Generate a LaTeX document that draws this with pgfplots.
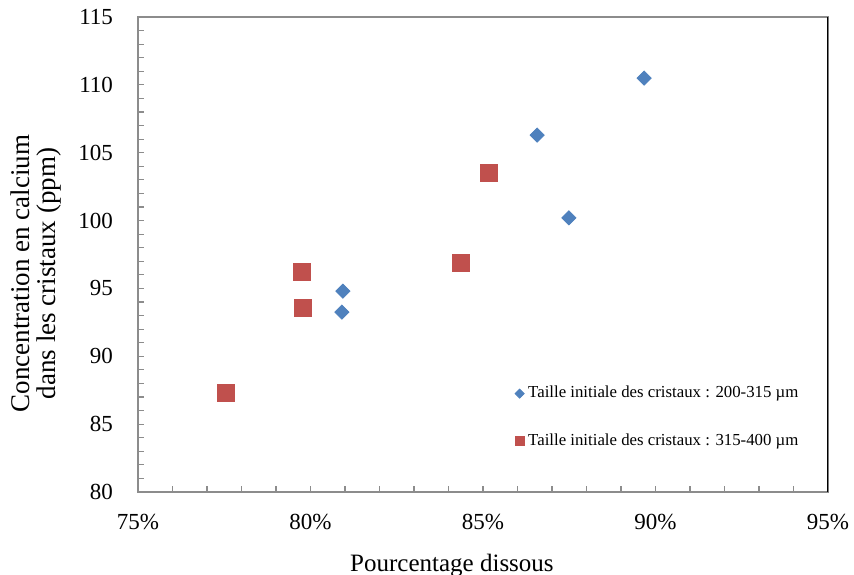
\documentclass[border=0pt]{standalone}
\usepackage{pgfplots}
\pgfplotsset{compat=1.18}
\usepackage{fontspec}
\setmainfont{Liberation Serif}

\definecolor{xlblue}{HTML}{4F81BD}
\definecolor{xlred}{HTML}{C0504D}
\definecolor{axgray}{HTML}{8C8C8C}

\begin{document}
\begin{tikzpicture}
	\begin{axis}[
			scale only axis,
			width=345pt, height=237.5pt,
			xmin=75, xmax=95, ymin=80, ymax=115,
			xtick={75,80,85,90,95},
			xticklabels={75\%,80\%,85\%,90\%,95\%},
			ytick={80,85,...,115},
			minor x tick num=4, minor y tick num=4,
			xtick pos=bottom, ytick pos=left,
			tick align=inside,
			major tick length=3pt, minor tick length=3pt,
			tick style={axgray, line width=0.6pt},
			axis line style={axgray, line width=0.9pt},
			/pgf/number format/assume math mode=true,
			ticklabel style={font=\fontsize{11.5}{13}\selectfont},
			xticklabel style={yshift=-7.5pt},
			yticklabel style={xshift=-9pt},
			xlabel={Pourcentage dissous},
			xlabel style={font=\fontsize{12.5}{14}\selectfont, at={(axis description cs:0.455,-0.154)}, anchor=center},
			ylabel={Concentration en calcium\\dans les cristaux (ppm)},
			ylabel style={font=\fontsize{13.5}{13}\selectfont, align=center, at={(axis description cs:-0.148,0.46)}, anchor=center},
			legend style={draw=none, fill=none, at={(axis description cs:0.546,0.157)}, anchor=west,
				font=\fontsize{8.4}{10}\selectfont, row sep=12.5pt, inner sep=0pt},
			legend cell align=left,
			legend image code/.code={\draw[#1] plot coordinates {(0cm,0cm)};},
		]
		\addplot[only marks, mark=square*, mark size=2.5pt, color=xlblue, mark options={fill=xlblue, draw=xlblue, rotate=45},
			legend image post style={mark size=1.6pt}]
		coordinates {
				(89.67,110.5)(86.57,106.3)(87.49,100.2)(80.94,94.8)(80.91,93.26)
			};
		\addplot[only marks, mark=square*, mark size=4.2pt, color=xlred, mark options={fill=xlred, draw=xlred},
			legend image post style={mark size=2.2pt}]
		coordinates {
				(85.17,103.5)(84.36,96.87)(79.75,96.2)(79.78,93.56)(77.55,87.3)
			};
		\legend{Taille initiale des cristaux : 200-315 µm, Taille initiale des cristaux : 315-400 µm}
		\coordinate (bl) at (rel axis cs:0,0);
		\coordinate (tr) at (rel axis cs:1,1);
		\draw[black, line width=0.9pt] (rel axis cs:1,0) -- (rel axis cs:1,1);
	\end{axis}
	\pgfresetboundingbox
	\path ([shift={(-69pt,-41.5pt)}]bl) rectangle ([shift={(13pt,8.5pt)}]tr);
\end{tikzpicture}
\end{document}
